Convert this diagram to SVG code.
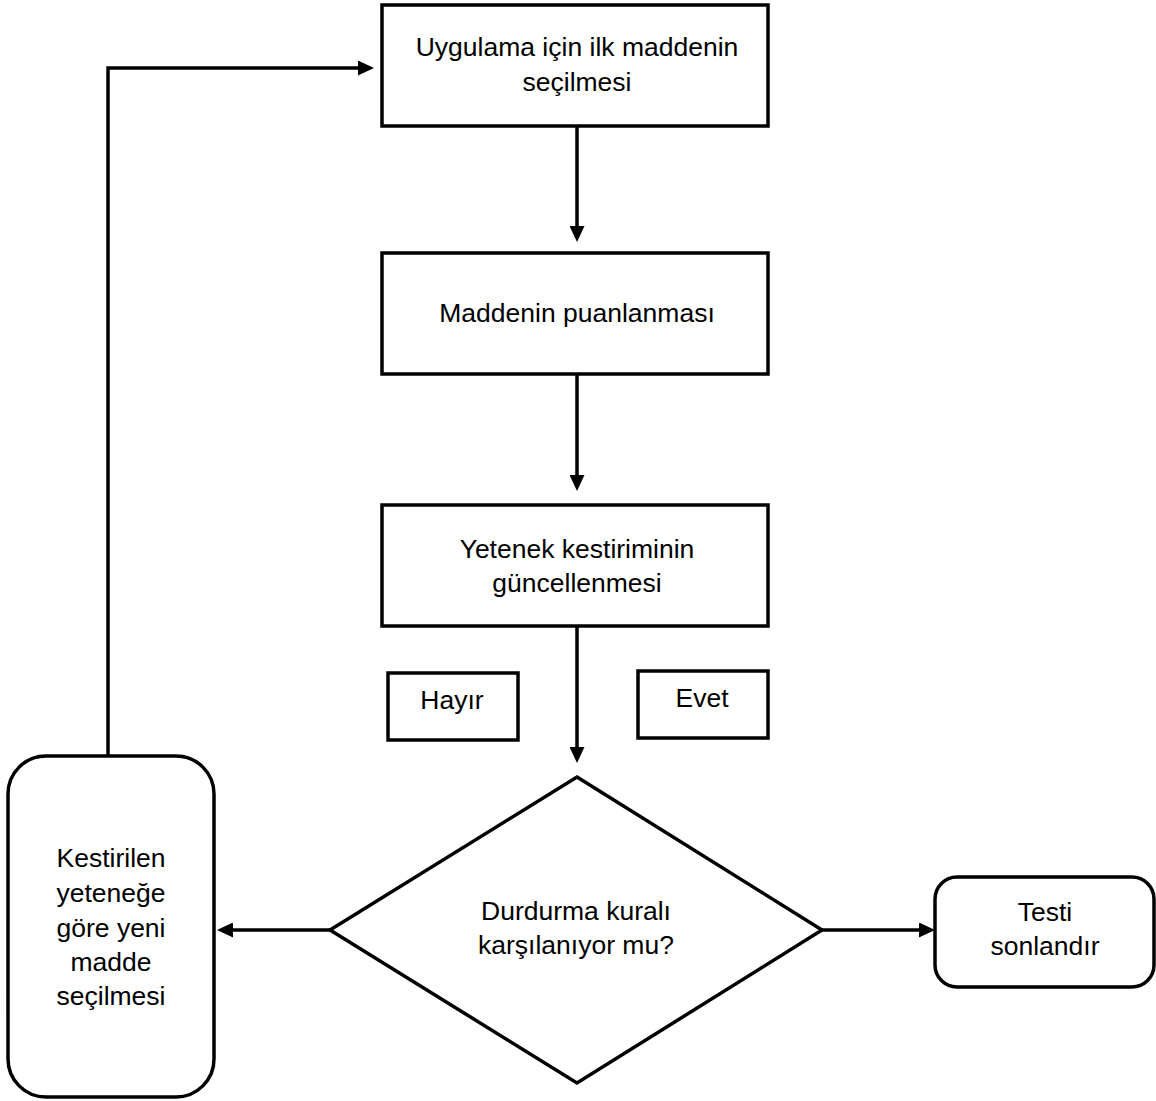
<svg xmlns="http://www.w3.org/2000/svg" width="1156" height="1101" viewBox="0 0 1156 1101">
<defs>
<style>
.box{fill:#fff;stroke:#000;stroke-width:3.5}
.t{font-family:"Liberation Sans",Arial,sans-serif;font-size:26.5px;fill:#000;text-anchor:middle}
.c{fill:none;stroke:#000;stroke-width:3.5}
</style>
<marker id="ah" viewBox="0 0 10 10" refX="0" refY="5" markerWidth="16" markerHeight="15" markerUnits="userSpaceOnUse" orient="auto" preserveAspectRatio="none">
<path d="M0,0 L10,5 L0,10 Z" fill="#000"/>
</marker>
</defs>
<rect width="1156" height="1101" fill="#fff"/>
<g id="connectors">
<path class="c" d="M577,126 V226" marker-end="url(#ah)"/>
<path class="c" d="M577,374 V475" marker-end="url(#ah)"/>
<path class="c" d="M577,626 V747" marker-end="url(#ah)"/>
<path class="c" d="M330,930 H233" marker-end="url(#ah)"/>
<path class="c" d="M822,930 H919" marker-end="url(#ah)"/>
<path class="c" d="M108,755 V68 H358" marker-end="url(#ah)"/>
</g>
<g id="n1">
<rect class="box" x="382" y="5" width="386" height="121"/>
<text class="t" x="577" y="56">Uygulama için ilk maddenin</text>
<text class="t" x="577" y="91">seçilmesi</text>
</g>
<g id="n2">
<rect class="box" x="382" y="253" width="386" height="121"/>
<text class="t" x="577" y="322">Maddenin puanlanması</text>
</g>
<g id="n3">
<rect class="box" x="382" y="505" width="386" height="121"/>
<text class="t" x="577" y="558">Yetenek kestiriminin</text>
<text class="t" x="577" y="592">güncellenmesi</text>
</g>
<g id="hayir">
<rect class="box" x="388" y="673" width="130" height="67"/>
<text class="t" x="452" y="709">Hayır</text>
</g>
<g id="evet">
<rect class="box" x="638" y="671" width="130" height="67"/>
<text class="t" x="702" y="707">Evet</text>
</g>
<g id="decision">
<polygon class="box" points="577,777 822,930 577,1083 330,930"/>
<text class="t" x="576" y="920">Durdurma kuralı</text>
<text class="t" x="576" y="954">karşılanıyor mu?</text>
</g>
<g id="n4">
<rect class="box" x="8" y="756" width="206" height="341" rx="38" ry="38"/>
<text class="t" x="111" y="867">Kestirilen</text>
<text class="t" x="111" y="902">yeteneğe</text>
<text class="t" x="111" y="937">göre yeni</text>
<text class="t" x="111" y="971">madde</text>
<text class="t" x="111" y="1005">seçilmesi</text>
</g>
<g id="n5">
<rect class="box" x="935" y="877" width="219" height="110" rx="22" ry="22"/>
<text class="t" x="1045" y="921">Testi</text>
<text class="t" x="1045" y="955">sonlandır</text>
</g>
</svg>
